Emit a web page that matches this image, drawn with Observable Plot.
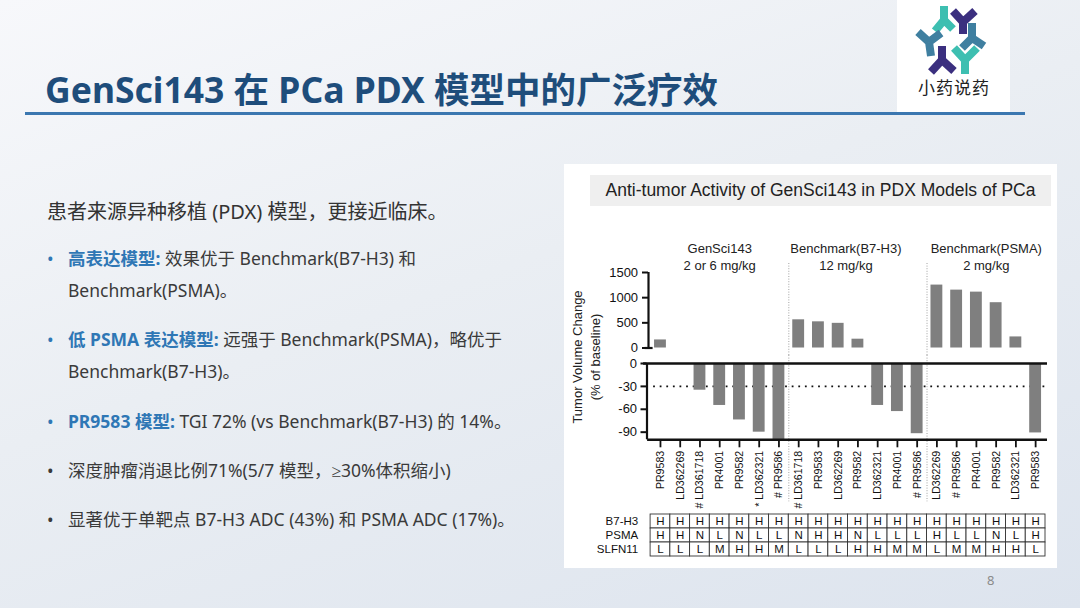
<!DOCTYPE html>
<html><head><meta charset="utf-8">
<script src="https://cdn.jsdelivr.net/npm/d3@7"></script>
<script src="https://cdn.jsdelivr.net/npm/@observablehq/plot@0.6"></script>
<style>
html,body{margin:0;padding:0;}
body{width:1080px;height:608px;overflow:hidden;position:relative;
 background:linear-gradient(160deg,#f7f8fb 0%,#eaeef3 45%,#dde4ee 100%);
 font-family:"Noto Sans","Noto Sans CJK SC",sans-serif;}
.abs{position:absolute;white-space:nowrap;}
.ln{position:absolute;white-space:nowrap;font-size:17.5px;line-height:26px;color:#3a3a3a;}
.b{color:#2f77b5;font-weight:700;}
.dot{position:absolute;font-size:17.5px;line-height:26px;}
#panel{position:absolute;left:564px;top:164px;width:493px;height:404px;background:#fff;}
#ctitle{position:absolute;left:26px;top:11px;width:461px;height:31px;background:#efefef;
 font-family:"Liberation Sans",Arial,sans-serif;font-size:17.5px;line-height:31px;text-align:center;color:#222;}
.ytitle{position:absolute;width:220px;text-align:center;font-family:"Liberation Sans",Arial,sans-serif;
 font-size:13px;line-height:16px;color:#222;transform:translate(-50%,-50%) rotate(-90deg);}
.plotbox{position:absolute;left:0;}
</style></head><body>

<div class="abs" style="left:45px;top:65px;font-size:35.5px;line-height:48px;font-weight:700;color:#1e4d7b;">GenSci143 在 PCa PDX 模型中的广泛疗效</div>
<div class="abs" style="left:25px;top:112px;width:1000px;height:3px;background:#3b77b0;"></div>

<div class="abs" style="left:897px;top:0;width:113px;height:112px;background:#fff;">
<svg width="113" height="112" viewBox="0 0 113 112">
 <g fill="none" stroke-width="8" stroke-linejoin="miter">
  <path d="M47 6 V20 M47 20 L38 31 M47 20 L56 29" stroke="#3dbfb1"/>
  <path d="M56 11 L66 22 M78 11 L66 22 M66 22 V34" stroke="#3b2f7f"/>
  <path d="M21 32 L32 42 M44 33 L32 42 M32 42 L34 56" stroke="#3f7fa0"/>
  <path d="M75 23 V38 M75 38 L65 48 M75 38 L87 46" stroke="#3f7fa0"/>
  <path d="M45 46 V60 M45 60 L34 72 M45 60 L57 71" stroke="#3b2f7f"/>
  <path d="M57 48 L68 60 M80 48 L68 60 M68 60 V74" stroke="#3dbfb1"/>
 </g>
 <text x="57" y="94" text-anchor="middle" font-family="Noto Sans CJK SC" font-size="17" fill="#222" letter-spacing="1">小药说药</text>
</svg>
</div>

<div class="abs" style="left:47px;top:198px;font-size:20px;line-height:28px;color:#333;">患者来源异种移植 (PDX) 模型，更接近临床。</div>

<div class="dot" style="left:47px;top:245px;color:#2f77b5;">•</div>
<div class="ln" style="left:68px;top:245px;"><span class="b">高表达模型:</span> 效果优于 Benchmark(B7-H3) 和</div>
<div class="ln" style="left:68px;top:277px;">Benchmark(PSMA)。</div>

<div class="dot" style="left:47px;top:326px;color:#2f77b5;">•</div>
<div class="ln" style="left:68px;top:326px;"><span class="b">低 PSMA 表达模型:</span> 远强于 Benchmark(PSMA)，略优于</div>
<div class="ln" style="left:68px;top:358px;">Benchmark(B7-H3)。</div>

<div class="dot" style="left:47px;top:408px;color:#2f77b5;">•</div>
<div class="ln" style="left:68px;top:408px;"><span class="b">PR9583 模型:</span> TGI 72% (vs Benchmark(B7-H3) 的 14%。</div>

<div class="dot" style="left:47px;top:457px;color:#3a3a3a;">•</div>
<div class="ln" style="left:68px;top:457px;">深度肿瘤消退比例71%(5/7 模型，<span style="font-family:'Noto Sans'">≥</span>30%体积缩小)</div>

<div class="dot" style="left:47px;top:506px;color:#3a3a3a;">•</div>
<div class="ln" style="left:68px;top:506px;">显著优于单靶点 B7-H3 ADC (43%) 和 PSMA ADC (17%)。</div>

<div class="abs" style="left:987px;top:571px;font-size:13px;color:#8a8a8a;">8</div>

<div id="panel">
 <div id="ctitle">Anti-tumor Activity of GenSci143 in PDX Models of PCa</div>
 <div class="ytitle" style="left:14px;top:192.5px;">Tumor Volume Change</div>
 <div class="ytitle" style="left:32px;top:192.5px;">(% of baseline)</div>
 <div class="plotbox" id="upper" style="top:72px;"></div>
 <div class="plotbox" id="lower" style="top:191px;"></div>
 <div class="plotbox" id="table" style="top:345px;"></div>
</div>

<script>
// ---- data ----
const models = ["PR9583","LD362269","# LD361718","PR4001","PR9582","* LD362321","# PR9586",
  "# LD361718","PR9583","LD362269","PR9582","LD362321","PR4001","# PR9586",
  "LD362269","# PR9586","PR4001","PR9582","LD362321","PR9583"];
const change = [160, 0, -35, -55, -74, -90, -100,
  560, 520, 490, 175, -55, -63, -92,
  1250, 1150, 1110, 900, 220, -91];
const groupNames = ["GenSci143","Benchmark(B7-H3)","Benchmark(PSMA)"];
const groupDoses = ["2 or 6 mg/kg","12 mg/kg","2 mg/kg"];
const groupSizes = [7, 7, 6];
const upperTicks = [0, 500, 1000, 1500];
const lowerTicks = [0, -30, -60, -90];
const markerRows = ["B7-H3","PSMA","SLFN11"];
const b7h3   = ["H","H","H","H","H","H","H","H","H","H","H","H","H","H","H","H","H","H","H","H"];
const psma   = ["H","H","N","L","N","L","L","N","H","H","N","L","L","L","H","L","L","N","L","H"];
const slfn11 = ["L","L","L","M","H","H","M","L","L","L","H","H","M","M","L","M","M","H","H","L"];

// ---- derived ----
const bars = change.map((v, i) => ({i, model: models[i], v}));
const starts = Array.from(d3.cumsum([0, ...groupSizes.slice(0, -1)]));
const groups = groupNames.map((g, k) => ({label: g + "\n" + groupDoses[k], center: starts[k] + (groupSizes[k] - 1) / 2}));
const separators = starts.slice(1).map(s => s - 0.5);
const markerValues = [b7h3, psma, slfn11];
const cells = markerRows.flatMap((r, k) => markerValues[k].map((v, i) => ({i, row: r, v})));

// ---- layout/style ----
const W = 493, ML = 86.1, MR = 12, HB = 0.3, BAR = "#7f7f7f";
const xOpt = {domain: [-0.5, models.length - 0.5], axis: null};
const st = (fs) => ({background: "transparent", overflow: "visible", fontFamily: "'Liberation Sans', Arial, sans-serif", fontSize: fs, color: "#111"});
const sepStyle = {stroke: "#8a8a8a", strokeWidth: 0.8, strokeDasharray: "1 1.6"};
const fmt = d => String(d);
const yLab = (ticks, dx) => Plot.text(ticks, {y: d => d, text: fmt, frameAnchor: "left", textAnchor: "end", dx, fontSize: 13, fill: "#111"});
const yTicks = (ticks, inL, inR) => Plot.ruleY(ticks, {y: d => d, x1: -0.5, x2: -0.5, insetLeft: inL, insetRight: inR, stroke: "#111", strokeWidth: 2});

const upper = Plot.plot({
  width: W, height: 120, marginLeft: ML, marginRight: MR, marginTop: 36, marginBottom: 8.5,
  x: xOpt, y: {domain: [0, 1500], axis: null}, style: st("13px"),
  marks: [
    Plot.ruleX(separators, {...sepStyle, insetTop: -9, insetBottom: -8.5}),
    Plot.rectY(bars.filter(d => d.v > 0), {x1: d => d.i - HB, x2: d => d.i + HB, y1: 0, y2: "v", fill: BAR}),
    Plot.ruleX([-0.5], {y1: 0, y2: 1500, dx: -2.1, stroke: "#111", strokeWidth: 2.2}),
    Plot.ruleY([0], {x1: -0.5, x2: -0.5, insetLeft: -5.5, insetRight: -2.5, stroke: "#111", strokeWidth: 2.2}),
    yTicks(upperTicks, -8.1, 2.1),
    yLab(upperTicks, -12.5),
    Plot.text([groups[0], groups[2]], {x: "center", y: 1500, text: "label", lineAnchor: "bottom", lineHeight: 1.3, dy: -3, fontSize: 13, fill: "#222"}),
    Plot.text([groups[1]], {x: "center", y: 1500, text: "label", lineAnchor: "bottom", lineHeight: 1.3, dy: -3, dx: -12, fontSize: 13, fill: "#222"})
  ]
});
document.getElementById("upper").append(upper);

const lower = Plot.plot({
  width: W, height: 157, marginLeft: ML, marginRight: MR, marginTop: 8, marginBottom: 72.7,
  x: xOpt, y: {domain: [-100, 0], axis: null}, style: st("10.6px"),
  marks: [
    Plot.ruleX(separators, {...sepStyle, insetTop: -8, insetBottom: -62}),
    Plot.ruleY([-30], {stroke: "#111", strokeWidth: 1.8, strokeDasharray: "1.8 4.8", insetLeft: 3}),
    Plot.rectY(bars.filter(d => d.v < 0), {x1: d => d.i - HB, x2: d => d.i + HB, y1: 0, y2: "v", fill: BAR}),
    Plot.ruleY([0], {stroke: "#111", strokeWidth: 2.6, insetLeft: -7, insetRight: -2}),
    Plot.ruleY([-100], {stroke: "#111", strokeWidth: 2.6, insetLeft: -3, insetRight: -2}),
    Plot.ruleX([-0.5], {dx: -3.6, stroke: "#111", strokeWidth: 2.2}),
    yTicks(lowerTicks, -9.6, 3.6),
    yLab(lowerTicks, -13.5),
    Plot.axisX({ticks: d3.range(models.length), tickFormat: i => models[i], tickRotate: -90, tickSize: 8, tickPadding: 3, strokeWidth: 1.8, label: null})
  ]
});
document.getElementById("lower").append(lower);

const table = Plot.plot({
  width: W, height: 52, marginLeft: ML, marginRight: MR, marginTop: 4.3, marginBottom: 4.3,
  x: xOpt, y: {type: "band", domain: markerRows, padding: 0, axis: null}, style: st("11.5px"),
  marks: [
    Plot.barX(cells, {x1: d => d.i - 0.5, x2: d => d.i + 0.5, y: "row", fill: "white", stroke: "#333", strokeWidth: 0.9}),
    Plot.text(cells, {x: "i", y: "row", text: "v", fontSize: 11.5, fill: "#111"}),
    Plot.axisY({tickSize: 0, tickPadding: 12.4, label: null})
  ]
});
document.getElementById("table").append(table);
</script>
</body></html>
